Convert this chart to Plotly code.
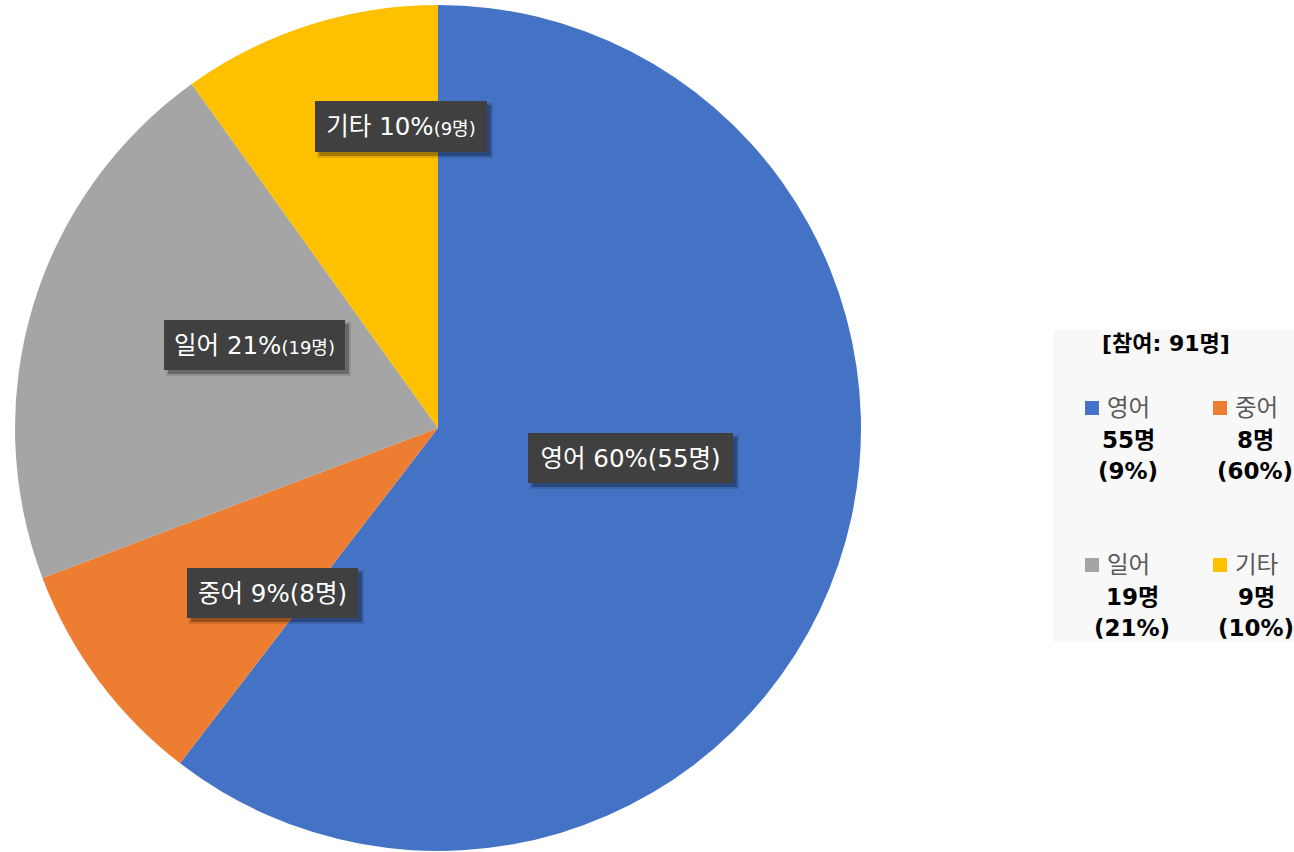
import plotly.graph_objects as go

W, H = 1294, 852

categories = ['영어', '중어', '일어', '기타']
counts = [55, 8, 19, 9]
pie_pcts = [60, 9, 21, 10]
legend_pcts = [9, 60, 21, 10]
colors = ['#4472C4', '#ED7D31', '#A5A5A5', '#FFC000']
total = 91

FONT = 'DejaVu Sans, Noto Sans CJK KR'

fig = go.Figure(go.Pie(
    labels=categories, values=counts, sort=False, direction='clockwise', rotation=0,
    marker=dict(colors=colors, line=dict(width=0)),
    textinfo='none', hoverinfo='label+value+percent',
    domain=dict(x=[15 / W, 861 / W], y=[1 / H, 847 / H]),
    showlegend=False,
))

def px(x):
    return x / W

def py(y):
    return 1 - y / H

def ann(x, y, text, size, color, xanchor='center', **kw):
    return dict(x=px(x), y=py(y), xref='paper', yref='paper', text=text,
                showarrow=False, xanchor=xanchor, yanchor='middle',
                font=dict(family=FONT, size=size, color=color), **kw)

# data label box centers and sizes (px)
label_pos = [(630.5, 458), (272.5, 593), (254.5, 345), (401, 126.5)]
label_size = [(205, 50), (171, 50), (181, 50), (172, 51)]
small_count = [False, False, True, True]

annotations = []
shapes = []
for cat, c, p, (lx, ly), (bw, bh), sm in zip(categories, counts, pie_pcts, label_pos, label_size, small_count):
    if sm:
        txt = f"{cat} {p}%<span style='font-size:18px'>({c}명)</span>"
    else:
        txt = f"{cat} {p}%({c}명)"
    # soft shadow
    for off, grow, alpha in [(4, 2, 0.12), (4, 0, 0.28)]:
        shapes.append(dict(type='rect', xref='paper', yref='paper',
                           xsizemode='pixel', ysizemode='pixel',
                           xanchor=px(lx), yanchor=py(ly),
                           x0=-bw / 2 + off - grow, x1=bw / 2 + off + grow,
                           y0=-bh / 2 - off - grow, y1=bh / 2 - off + grow,
                           fillcolor=f'rgba(0,0,0,{alpha})', line=dict(width=0), layer='above'))
    annotations.append(ann(lx, ly, txt, 24.5, 'white', bgcolor='#404040',
                           borderpad=0, borderwidth=0, width=bw, height=bh,
                           align='center', valign='middle'))

# legend box
shapes.append(dict(type='rect', xref='paper', yref='paper', x0=px(1053), x1=px(1294),
                   y0=py(642), y1=py(330), fillcolor='#F8F8F8', line=dict(width=0), layer='below'))

annotations.append(ann(1166, 343, f"<b>[참여: {total}명]</b>", 22, 'black'))

leg_sq_x = [1085, 1213, 1085, 1213]
leg_row_y = [408, 408, 565, 565]
leg_cnt_x = [1128, 1255, 1132, 1256]
for cat, c, p, col, sx, ry, cx in zip(categories, counts, legend_pcts, colors, leg_sq_x, leg_row_y, leg_cnt_x):
    shapes.append(dict(type='rect', xref='paper', yref='paper', x0=px(sx), x1=px(sx + 14),
                       y0=py(ry + 7), y1=py(ry - 7), fillcolor=col, line=dict(width=0)))
    annotations.append(ann(sx + 20, ry, cat, 23.5, '#595959', xanchor='left'))
    annotations.append(ann(cx, ry + 32, f"<b>{c}명</b>", 23, 'black'))
    annotations.append(ann(cx, ry + 63, f"<b>({p}%)</b>", 23, 'black'))

fig.update_layout(width=W, height=H, margin=dict(l=0, r=0, t=0, b=0),
                  paper_bgcolor='white', plot_bgcolor='white',
                  shapes=shapes, annotations=annotations,
                  font=dict(family=FONT))

fig.write_html("out.html", config={'displayModeBar': False},
               post_script="document.body.style.margin='0';document.body.style.overflow='hidden';")
